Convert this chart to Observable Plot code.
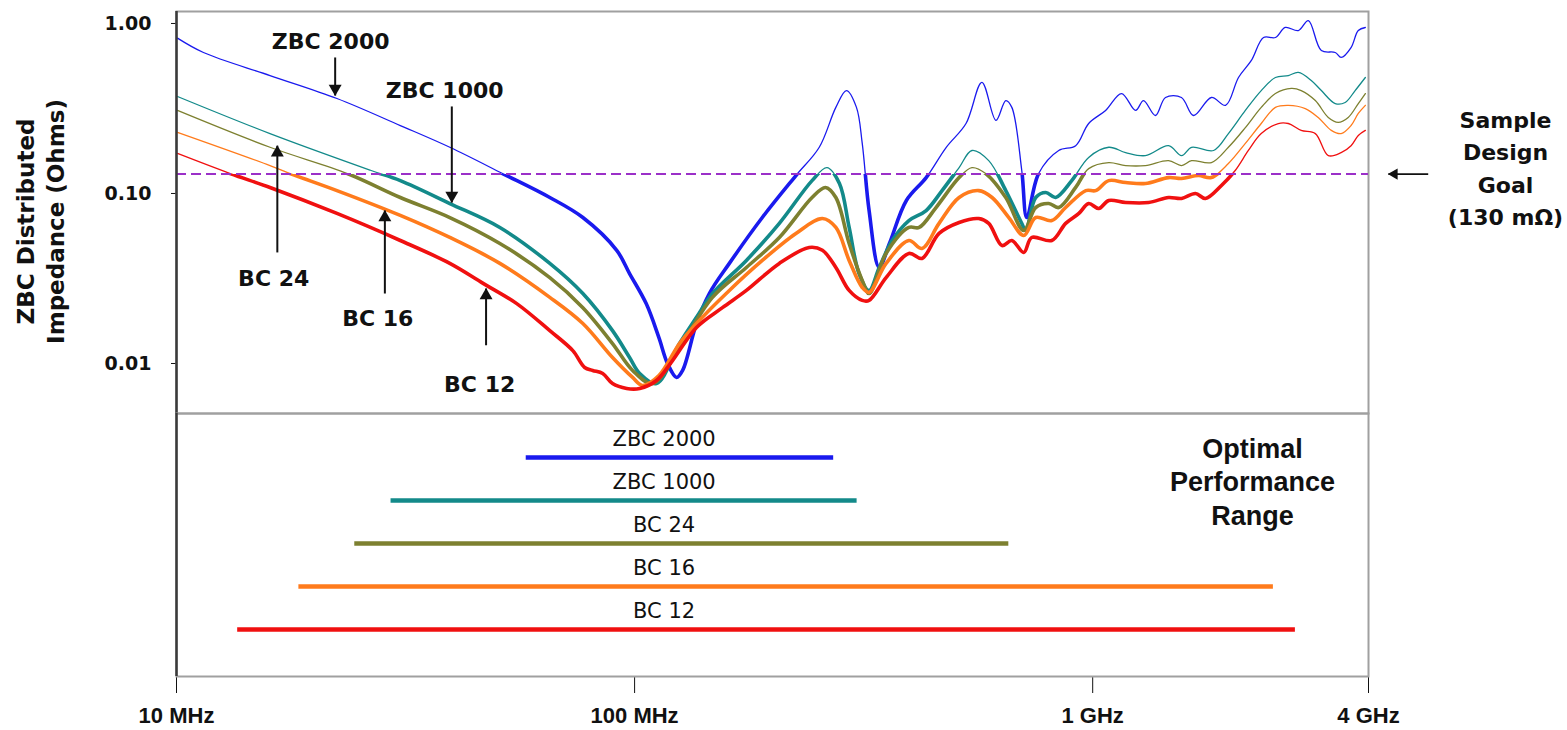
<!DOCTYPE html>
<html>
<head>
<meta charset="utf-8">
<script src="https://cdn.jsdelivr.net/npm/d3@7"></script>
<script src="https://cdn.jsdelivr.net/npm/@observablehq/plot@0.6"></script>
<style>
  html, body { margin: 0; padding: 0; background: #fff; overflow: hidden; }
  #chart svg { display: block; }
</style>
</head>
<body>
<div id="chart"></div>
<script>
// ---- Series (frequency in MHz, impedance in Ohms) ----
const seriesNames = ["ZBC 2000", "ZBC 1000", "BC 24", "BC 16", "BC 12"];
const seriesColors = ["#1a1aee", "#138a8a", "#7d8030", "#ff7b1c", "#f01010"];

const zbc2000 = [[10.05,0.82],[11.45,0.675],[16.0,0.494],[22.4,0.362],[30.8,0.251],[39.5,0.187],[51.5,0.131],[65.3,0.0947],[77.1,0.0722],[91.4,0.0463],[97.5,0.0338],[106,0.0225],[113,0.0142],[118,0.0100],[123.5,0.00828],[127.3,0.0091],[136.5,0.0172],[145.6,0.0258],[161,0.0388],[190,0.0722],[225,0.1275],[253,0.187],[275,0.321],[290,0.403],[305,0.321],[314,0.197],[325,0.0794],[342,0.0367],[360,0.0508],[392,0.091],[433,0.124],[479,0.187],[529,0.258],[573,0.45],[615,0.269],[646,0.352],[666,0.321],[700,0.137],[718,0.0722],[762,0.131],[843,0.179],[918,0.191],[980,0.258],[1067,0.308],[1156,0.387],[1241,0.308],[1291,0.352],[1371,0.2875],[1442,0.367],[1562,0.367],[1660,0.2875],[1816,0.367],[1950,0.33],[2081,0.481],[2220,0.606],[2360,0.827],[2505,0.827],[2632,0.947],[2811,0.909],[2956,1.04],[3156,0.693],[3384,0.675],[3486,0.631],[3664,0.722],[3800,0.909],[3937,0.947]];

const zbc1000 = [[10.05,0.372],[16.0,0.225],[26.5,0.137],[30.8,0.119],[39.5,0.0873],[50.8,0.0631],[65.3,0.0388],[77.1,0.0258],[89.5,0.0156],[97.5,0.01085],[102.6,0.00873],[111.6,0.00762],[125.3,0.0131],[136.5,0.0187],[147.9,0.0258],[175.4,0.0404],[207,0.0667],[244,0.119],[263,0.142],[280,0.1145],[294,0.0631],[309,0.0338],[325,0.0269],[342,0.0367],[365,0.0529],[397,0.0693],[433,0.0794],[469,0.104],[511,0.142],[545,0.179],[593,0.156],[646,0.104],[700,0.0667],[714,0.0606],[751,0.0947],[790,0.1014],[830,0.0947],[900,0.119],[980,0.163],[1084,0.187],[1180,0.174],[1303,0.167],[1464,0.191],[1563,0.167],[1644,0.187],[1836,0.179],[1978,0.225],[2154,0.308],[2333,0.403],[2505,0.481],[2673,0.494],[2811,0.515],[3000,0.462],[3156,0.403],[3384,0.338],[3557,0.343],[3740,0.403],[3937,0.481]];

const bc24 = [[10.05,0.308],[16.0,0.187],[23.6,0.131],[30.8,0.0947],[39.5,0.0722],[50.8,0.0508],[65.3,0.032],[77.1,0.0213],[89.5,0.0131],[99,0.0091],[109.5,0.00762],[125.3,0.0124],[147.9,0.0245],[175.4,0.0367],[207,0.0551],[244,0.0947],[261,0.1085],[275,0.0947],[294,0.0508],[314,0.0308],[325,0.0258],[354,0.0444],[397,0.0631],[418,0.0631],[455,0.0827],[511,0.124],[545,0.142],[584,0.131],[646,0.0947],[707,0.0606],[751,0.0827],[802,0.0873],[843,0.0827],[918,0.1085],[980,0.140],[1084,0.152],[1180,0.146],[1303,0.146],[1464,0.156],[1563,0.146],[1644,0.156],[1816,0.152],[1978,0.187],[2154,0.244],[2333,0.321],[2505,0.387],[2714,0.415],[2852,0.403],[3062,0.352],[3268,0.28],[3435,0.262],[3612,0.28],[3800,0.338],[3937,0.387]];

const bc16 = [[10.05,0.229],[16.0,0.146],[17.7,0.131],[22.4,0.104],[30.8,0.0743],[39.5,0.0551],[50.8,0.0388],[65.3,0.0245],[77.1,0.0172],[89.5,0.01085],[99,0.00828],[104,0.00743],[113,0.0085],[125.3,0.0131],[136.5,0.0172],[161,0.0269],[190,0.0404],[225,0.0582],[257,0.0712],[275,0.0631],[294,0.0404],[314,0.028],[325,0.0262],[354,0.0388],[397,0.0529],[424,0.0475],[462,0.0667],[511,0.0947],[564,0.104],[603,0.0947],[656,0.0722],[707,0.0566],[751,0.0722],[814,0.0693],[873,0.0827],[966,0.104],[1015,0.104],[1084,0.119],[1180,0.116],[1303,0.1145],[1464,0.124],[1563,0.1225],[1702,0.1275],[1816,0.124],[1978,0.150],[2154,0.197],[2333,0.258],[2505,0.321],[2673,0.33],[2911,0.316],[3107,0.28],[3318,0.235],[3486,0.225],[3664,0.251],[3800,0.2955],[3937,0.33]];

const bc12 = [[10.05,0.172],[13.1,0.131],[16.0,0.1085],[22.4,0.0763],[30.8,0.0529],[39.5,0.0388],[46.7,0.0296],[55.3,0.0225],[65.3,0.0156],[73.3,0.0119],[77.8,0.00947],[81,0.0091],[85.2,0.00873],[89.5,0.00762],[96.1,0.00713],[102.6,0.00713],[111.6,0.00794],[121,0.0104],[136.5,0.0163],[155.5,0.0213],[175.4,0.0269],[207,0.0388],[240.5,0.0481],[257,0.0463],[275,0.0367],[294,0.0269],[314,0.0235],[325,0.0235],[354,0.032],[397,0.0444],[424,0.0415],[462,0.0582],[511,0.0675],[564,0.0712],[593,0.0667],[634,0.0494],[666,0.0529],[707,0.045],[736,0.0551],[814,0.0529],[873,0.0667],[933,0.0763],[980,0.0873],[1031,0.0816],[1084,0.091],[1180,0.0885],[1325,0.0885],[1464,0.0947],[1563,0.0935],[1676,0.1],[1762,0.0935],[1910,0.1115],[2049,0.137],[2187,0.179],[2333,0.225],[2542,0.258],[2673,0.258],[2852,0.235],[3062,0.225],[3268,0.167],[3486,0.174],[3664,0.191],[3800,0.2195],[3937,0.235]];

const designGoal = 0.13;

// Optimal performance ranges (MHz)
const rangeLow  = [58, 29.4, 24.5, 18.5, 13.6];
const rangeHigh = [272, 306, 656, 2480, 2770];

// Axis ticks
const yTicks = [0.01, 0.1, 1];
const xTickValues = [10, 100, 1000, 4000];
const xTickLabels = ["10 MHz", "100 MHz", "1 GHz", "4 GHz"];

// Annotations (label anchors and arrows, in data units)
const annoText  = ["ZBC 2000", "ZBC 1000", "BC 24", "BC 16", "BC 12"];
const annoFreq  = [21.7, 38.5, 16.3, 27.5, 45.9];
const annoZ     = [0.783, 0.403, 0.0316, 0.0184, 0.00743];
const arrowFreq = [22.2, 39.9, 16.6, 28.5, 47.4];
const arrowFrom = [0.631, 0.325, 0.045, 0.0258, 0.0128];
const arrowTo   = [0.377, 0.0885, 0.191, 0.0794, 0.0276];

// ---- Build tables ----
const allSeries = [zbc2000, zbc1000, bc24, bc16, bc12];
const curveRows = [];
allSeries.forEach((arr, i) => arr.forEach(([f, z]) => curveRows.push({series: seriesNames[i], f, z})));
const rangeRows = seriesNames.map((s, i) => ({series: s, lo: rangeLow[i], hi: rangeHigh[i]}));
const annoRows = annoText.map((t, i) => ({text: t, f: annoFreq[i], z: annoZ[i]}));
const arrowRows = arrowFreq.map((f, i) => ({f, from: arrowFrom[i], to: arrowTo[i]}));
const upArrows = arrowRows.filter(d => d.to > d.from);
const downArrows = arrowRows.filter(d => d.to < d.from);

const W = 1567;
const mL = 176, mR = 199;
const colorScale = {domain: seriesNames, range: seriesColors};
const FONT = "DejaVu Sans";

// ---- Upper panel ----
const upperChart = Plot.plot({
  width: W, height: 413,
  marginLeft: mL, marginRight: mR, marginTop: 11, marginBottom: 0,
  style: {fontFamily: FONT, fontSize: "19px", fontWeight: "bold", color: "#111", background: "#fff", overflow: "visible"},
  x: {type: "log", domain: [10, 4000], axis: null},
  y: {type: "log", domain: [0.00508, 1.176], ticks: yTicks, tickFormat: d3.format(".2f"), tickSize: 5, tickPadding: 20, label: null},
  color: colorScale,
  marks: [
    Plot.frame({stroke: "#a0a0a0", strokeWidth: 2}),
    Plot.line(curveRows, {x: "f", y: "z", z: "series", stroke: "series", strokeWidth: 1.3, curve: "catmull-rom"}),
    Plot.line(curveRows, {x: "f", y: "z", z: "series", stroke: "series", strokeWidth: 3.6, curve: "catmull-rom"}),
    Plot.ruleY([designGoal], {stroke: "#9b30c8", strokeWidth: 2, strokeDasharray: "10,5"}),
    Plot.ruleX([10], {stroke: "#3a3a3a", strokeWidth: 2.5}),
    Plot.text(annoRows, {x: "f", y: "z", text: "text", fontSize: 22, fontWeight: "bold", fontFamily: FONT, fill: "#111"}),
    Plot.link(arrowRows, {x1: "f", x2: "f", y1: "from", y2: "to", stroke: "#111", strokeWidth: 2}),
    Plot.dot(downArrows, {x: "f", y: "to", symbol: "triangle", r: 4.8, fill: "#111", stroke: null, rotate: 180, dy: -7}),
    Plot.dot(upArrows, {x: "f", y: "to", symbol: "triangle", r: 4.8, fill: "#111", stroke: null, rotate: 0, dy: 7}),
    Plot.link([designGoal], {x1: () => 4420, x2: () => 5400, y1: d => d, y2: d => d, stroke: "#111", strokeWidth: 1.6}),
    Plot.dot([designGoal], {x: () => 4420, y: d => d, symbol: "triangle", r: 4.2, fill: "#111", stroke: null, rotate: -90, dx: 6}),
    Plot.text(["Sample\nDesign\nGoal\n(130 mΩ)"], {frameAnchor: "right", y: () => designGoal, text: d => d, textAnchor: "middle", lineAnchor: "middle", dx: 137, dy: -8, lineHeight: 1.48, fontSize: 22, fontWeight: "bold", fontFamily: FONT, fill: "#111"}),
    Plot.text(["ZBC Distributed\nImpedance (Ohms)"], {frameAnchor: "left", text: d => d, textAnchor: "middle", lineAnchor: "middle", rotate: -90, dx: -137, dy: 9, lineHeight: 1.32, fontSize: 23, fontWeight: "bold", fontFamily: FONT, fill: "#111"})
  ]
});

// thick segments only below the design goal
(function () {
  const ns = "http://www.w3.org/2000/svg";
  let yg;
  try { yg = upperChart.scale("y").apply(designGoal); } catch (e) {
    const l0 = Math.log10(0.00508), l1 = Math.log10(1.176);
    yg = 413 - (Math.log10(designGoal) - l0) / (l1 - l0) * 402;
  }
  const defs = document.createElementNS(ns, "defs");
  const cp = document.createElementNS(ns, "clipPath");
  cp.setAttribute("id", "belowGoal");
  const r = document.createElementNS(ns, "rect");
  r.setAttribute("x", 0); r.setAttribute("y", yg);
  r.setAttribute("width", W); r.setAttribute("height", 413 - yg);
  cp.appendChild(r); defs.appendChild(cp); upperChart.insertBefore(defs, upperChart.firstChild);
  const groups = upperChart.querySelectorAll('g[aria-label="line"]');
  if (groups.length > 1) groups[1].setAttribute("clip-path", "url(#belowGoal)");
})();

// ---- Lower panel ----
const lowerChart = Plot.plot({
  width: W, height: 317,
  marginLeft: mL, marginRight: mR, marginTop: 0, marginBottom: 54,
  style: {fontFamily: "Liberation Sans", fontSize: "22px", fontWeight: "bold", color: "#111", background: "#fff", overflow: "visible"},
  x: {type: "log", domain: [10, 4000], ticks: xTickValues, tickFormat: d => xTickLabels[xTickValues.indexOf(d)], tickSize: 17, tickPadding: 14, label: null},
  y: {type: "point", domain: seriesNames, range: [44, 216], padding: 0, axis: null},
  color: colorScale,
  marks: [
    Plot.frame({stroke: "#a0a0a0", strokeWidth: 2}),
    Plot.ruleX([10], {stroke: "#3a3a3a", strokeWidth: 2.5}),
    Plot.ruleY(rangeRows, {y: "series", x1: "lo", x2: "hi", stroke: "series", strokeWidth: 4.5}),
    Plot.text(rangeRows, {x: () => 116, y: "series", text: "series", dy: -18, fontSize: 21, fontWeight: "normal", fontFamily: FONT, fill: "#111"}),
    Plot.text(["Optimal\nPerformance\nRange"], {frameAnchor: "top-right", text: d => d, textAnchor: "middle", lineAnchor: "middle", dx: -116, dy: 67, lineHeight: 1.25, fontSize: 27, fontWeight: "bold", fontFamily: "Liberation Sans", fill: "#111"})
  ]
});

const host = document.getElementById("chart");
host.appendChild(upperChart);
host.appendChild(lowerChart);
</script>
</body>
</html>
